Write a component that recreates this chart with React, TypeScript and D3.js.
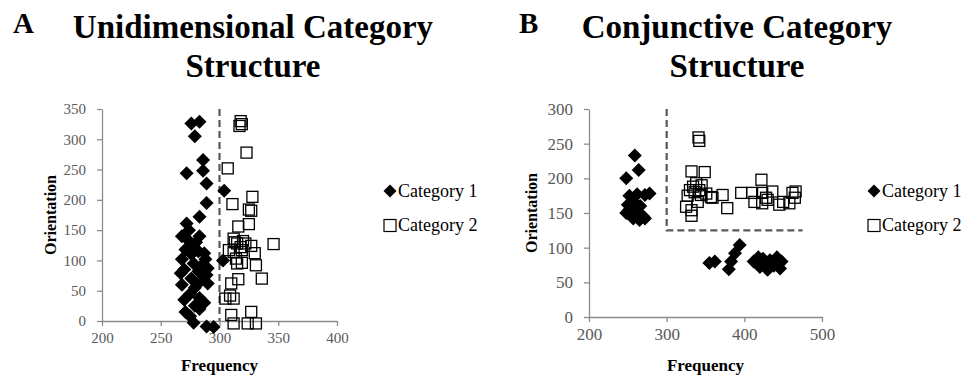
import React, { useRef, useEffect } from "react";
import * as d3 from "d3";

// Panel A: unidimensional structure (frequency, orientation)
const uniCat1: [number, number][] = [
  [276, 326], [283, 329], [279, 305], [286, 266], [272, 244], [286, 248], [289, 227], [304, 215],
  [289, 195], [283, 172], [272, 161], [268, 140], [273, 134], [283, 140], [278, 126], [271, 118],
  [282, 115], [276, 110], [268, 102], [288, 102], [303, 100], [278, 95], [285, 92], [290, 87],
  [270, 85], [282, 82], [289, 76], [267, 79], [276, 70], [284, 66], [290, 62], [268, 60],
  [279, 55], [275, 45], [283, 38], [270, 35], [287, 30], [279, 25], [271, 15], [283, 20],
  [275, 8], [278, -3], [289, -9], [295, -10], [280, 130], [287, 112], [274, 150],
];
const uniCat2: [number, number][] = [
  [318, 330], [319, 325], [317, 322], [323, 278], [307, 252], [328, 205], [311, 193], [325, 184],
  [327, 182], [325, 160], [316, 156], [312, 136], [315, 128], [322, 128], [327, 124], [346, 127],
  [308, 117], [312, 114], [319, 117], [330, 112], [315, 95], [319, 96], [331, 92], [318, 122],
  [313, 130], [336, 70], [310, 62], [316, 69], [305, 37], [312, 37], [309, 42], [310, 10],
  [327, 15], [312, -4], [324, -4], [331, -4], [320, 132], [314, 103],
];

// Panel B: conjunctive structure
const conjCat1: [number, number][] = [
  [259, 233], [264, 212], [248, 200], [252, 175], [262, 177], [272, 176], [278, 178], [250, 162],
  [258, 165], [266, 160], [248, 150], [255, 150], [262, 148], [270, 145], [257, 142], [265, 140],
  [272, 142], [252, 155], [260, 155],
  [355, 78], [362, 80], [394, 104], [388, 92], [383, 80], [380, 69], [412, 80], [418, 86],
  [420, 72], [426, 79], [430, 68], [433, 82], [438, 74], [442, 86], [446, 70], [440, 80],
  [424, 84], [448, 80],
];
const conjCat2: [number, number][] = [
  [341, 259], [342, 254], [332, 210], [349, 209], [330, 183], [338, 193], [342, 183], [351, 178],
  [359, 172], [372, 176], [378, 157], [396, 179], [325, 159], [332, 154], [332, 146], [327, 175],
  [334, 188], [344, 176], [340, 166], [357, 173], [422, 198], [410, 179], [423, 179], [436, 181],
  [423, 164], [445, 162], [462, 179], [466, 181], [458, 164], [413, 166], [430, 169], [428, 172],
  [450, 166], [465, 172], [345, 190], [336, 180],
];

const uniXTicks = [200, 250, 300, 350, 400];
const uniYTicks = [0, 50, 100, 150, 200, 250, 300, 350];
const conjXTicks = [200, 300, 400, 500];
const conjYTicks = [0, 50, 100, 150, 200, 250, 300];

// dashed category boundaries
const uniBoundary: [number, number][] = [[300, 350], [300, 0]];
const conjBoundary: [number, number][] = [[300, 300], [300, 125], [475, 125]];

const legendLabels = ["Category 1", "Category 2"];

const SERIF = "'Liberation Serif', 'Times New Roman', serif";
const diamond = (r: number) => `M0,${-r}L${r},0L0,${r}L${-r},0Z`;

type PanelCfg = {
  letter: string;
  letterX: number;
  title: string[];
  titleX: number;
  xDomain: [number, number];
  xRange: [number, number];
  yDomain: [number, number];
  yRange: [number, number];
  xTicks: number[];
  yTicks: number[];
  tickSize: number;
  cat1: [number, number][];
  cat2: [number, number][];
  boundary: [number, number][];
  yLabelX: number;
  legendX: number;
};

function drawPanel(svg: d3.Selection<SVGSVGElement, unknown, null, undefined>, p: PanelCfg) {
  const x = d3.scaleLinear().domain(p.xDomain).range(p.xRange);
  const y = d3.scaleLinear().domain(p.yDomain).range(p.yRange);
  const g = svg.append("g");

  // panel letter + title
  g.append("text")
    .attr("x", p.letterX)
    .attr("y", 33)
    .attr("font-family", SERIF)
    .attr("font-weight", "bold")
    .attr("font-size", 29)
    .text(p.letter);
  p.title.forEach((line, i) => {
    g.append("text")
      .attr("x", p.titleX)
      .attr("y", 38 + i * 39)
      .attr("text-anchor", "middle")
      .attr("font-family", SERIF)
      .attr("font-weight", "bold")
      .attr("font-size", 33)
      .text(line);
  });

  // axes
  const xAxis = g
    .append("g")
    .attr("transform", `translate(0,${y(0)})`)
    .call(d3.axisBottom(x).tickValues(p.xTicks).tickSize(5).tickSizeOuter(0).tickPadding(6));
  const yAxis = g
    .append("g")
    .attr("transform", `translate(${x(p.xDomain[0])},0)`)
    .call(d3.axisLeft(y).tickValues(p.yTicks).tickSize(5).tickSizeOuter(0).tickPadding(11));
  [xAxis, yAxis].forEach((a) => {
    a.attr("font-family", SERIF);
    a.select(".domain").attr("stroke", "#8c8c8c").attr("stroke-width", 1.3);
    a.selectAll(".tick line").attr("stroke", "#8c8c8c").attr("stroke-width", 1.3);
    a.selectAll(".tick text")
      .attr("font-family", SERIF)
      .attr("font-size", p.tickSize)
      .attr("fill", "#595959");
  });

  // boundary
  g.append("path")
    .attr("d", d3.line().x((d) => x(d[0])).y((d) => y(d[1]))(p.boundary))
    .attr("fill", "none")
    .attr("stroke", "#595959")
    .attr("stroke-width", 2.2)
    .attr("stroke-dasharray", "7,4");

  // points
  g.selectAll("path.c1")
    .data(p.cat1)
    .enter()
    .append("path")
    .attr("class", "c1")
    .attr("d", diamond(7))
    .attr("transform", (d) => `translate(${x(d[0])},${y(d[1])})`)
    .attr("fill", "#000");
  g.selectAll("rect.c2")
    .data(p.cat2)
    .enter()
    .append("rect")
    .attr("class", "c2")
    .attr("x", (d) => x(d[0]) - 5.5)
    .attr("y", (d) => y(d[1]) - 5.5)
    .attr("width", 11)
    .attr("height", 11)
    .attr("fill", "none")
    .attr("stroke", "#000")
    .attr("stroke-width", 1.3);

  // axis titles
  g.append("text")
    .attr("x", (p.xRange[0] + p.xRange[1]) / 2)
    .attr("y", 371)
    .attr("text-anchor", "middle")
    .attr("font-family", SERIF)
    .attr("font-weight", "bold")
    .attr("font-size", 17)
    .text("Frequency");
  g.append("text")
    .attr("transform", `translate(${p.yLabelX},${(p.yRange[0] + p.yRange[1]) / 2}) rotate(-90)`)
    .attr("text-anchor", "middle")
    .attr("font-family", SERIF)
    .attr("font-weight", "bold")
    .attr("font-size", 16)
    .text("Orientation");

  // legend
  const lg = g.append("g").attr("transform", `translate(${p.legendX},0)`);
  lg.append("path").attr("d", diamond(6.5)).attr("transform", "translate(0,191)").attr("fill", "#000");
  lg.append("rect")
    .attr("x", -6)
    .attr("y", 219.5)
    .attr("width", 12)
    .attr("height", 12)
    .attr("fill", "none")
    .attr("stroke", "#000")
    .attr("stroke-width", 1.2);
  legendLabels.forEach((t, i) => {
    lg.append("text")
      .attr("x", 8)
      .attr("y", 197 + i * 34)
      .attr("font-family", SERIF)
      .attr("font-size", 18)
      .attr("fill", "#000")
      .text(t);
  });
}

export default function App() {
  const ref = useRef<SVGSVGElement>(null);

  useEffect(() => {
    if (!ref.current) return;
    const svg = d3.select(ref.current);
    svg.selectAll("*").remove();

    drawPanel(svg, {
      letter: "A",
      letterX: 13,
      title: ["Unidimensional Category", "Structure"],
      titleX: 253,
      xDomain: [200, 400],
      xRange: [102, 337],
      yDomain: [0, 350],
      yRange: [321, 109],
      xTicks: uniXTicks,
      yTicks: uniYTicks,
      tickSize: 15,
      cat1: uniCat1,
      cat2: uniCat2,
      boundary: uniBoundary,
      yLabelX: 56,
      legendX: 390,
    });

    drawPanel(svg, {
      letter: "B",
      letterX: 519,
      title: ["Conjunctive Category", "Structure"],
      titleX: 737,
      xDomain: [200, 500],
      xRange: [589, 822],
      yDomain: [0, 300],
      yRange: [317, 109],
      xTicks: conjXTicks,
      yTicks: conjYTicks,
      tickSize: 17,
      cat1: conjCat1,
      cat2: conjCat2,
      boundary: conjBoundary,
      yLabelX: 537,
      legendX: 874,
    });

    return () => {
      svg.selectAll("*").remove();
    };
  }, []);

  return (
    <svg
      ref={ref}
      width={971}
      height={382}
      style={{ position: "absolute", left: 0, top: 0, background: "#fff" }}
    />
  );
}
